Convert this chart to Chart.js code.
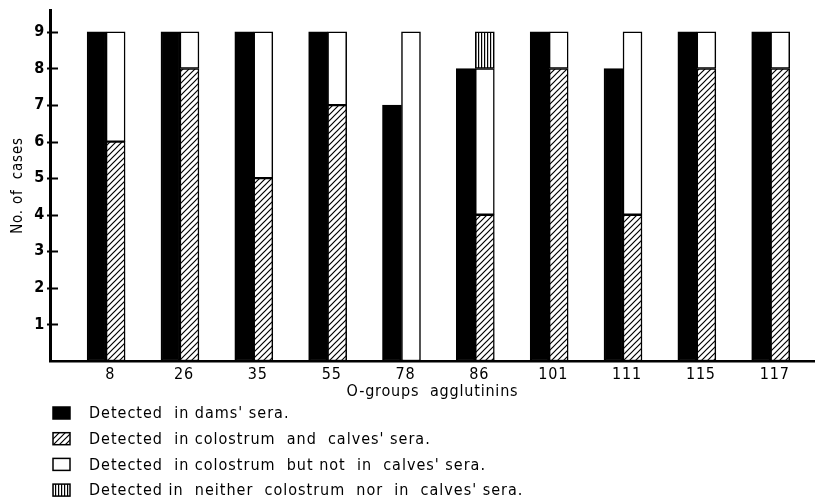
<!DOCTYPE html>
<html>
<head>
<meta charset="utf-8">
<script src="https://cdn.jsdelivr.net/npm/chart.js@4.4.1/dist/chart.umd.min.js"></script>
<style>
  html, body { margin: 0; padding: 0; background: #fff; }
  #wrap { width: 815px; height: 503px; }
</style>
</head>
<body>
<div id="wrap"><canvas id="c" width="815" height="503"></canvas></div>
<script>
// O-group agglutinins and the number of cases in which each was detected
const groups = ['8', '26', '35', '55', '78', '86', '101', '111', '115', '117'];
const damsSera = [9, 9, 9, 9, 7, 8, 9, 8, 9, 9];
const colostrumAndCalves = [6, 8, 5, 7, null, 4, 8, 4, 8, 8];
const colostrumNotCalves = [3, 1, 4, 2, 9, 4, 1, 5, 1, 1];
const neitherColostrumNorCalves = [null, null, null, null, null, 1, null, null, null, null];
const yTickValues = [1, 2, 3, 4, 5, 6, 7, 8, 9];
const seriesLabels = [
  "Detected  in dams' sera.",
  "Detected  in colostrum  and  calves' sera.",
  "Detected  in colostrum  but not  in  calves' sera.",
  "Detected in  neither  colostrum  nor  in  calves' sera."
];

const FONT = "'DejaVu Sans Condensed', 'DejaVu Sans', sans-serif";

// Hatch fills made from small repeating tiles
function makePattern(kind) {
  const tile = document.createElement('canvas');
  const t = tile.getContext('2d');
  if (kind === 'diagonal') {
    const s = 6;
    tile.width = s; tile.height = s;
    t.fillStyle = '#fff'; t.fillRect(0, 0, s, s);
    t.strokeStyle = '#000'; t.lineWidth = 1.2;
    t.beginPath();
    t.moveTo(-1, s + 1); t.lineTo(s + 1, -1);
    t.moveTo(-1, 1); t.lineTo(1, -1);
    t.moveTo(s - 1, s + 1); t.lineTo(s + 1, s - 1);
    t.stroke();
  } else {
    tile.width = 3; tile.height = 2;
    t.fillStyle = '#fff'; t.fillRect(0, 0, 3, 2);
    t.fillStyle = '#000'; t.fillRect(1, 0, 1.2, 2);
  }
  return document.createElement('canvas').getContext('2d').createPattern(tile, 'repeat');
}

const diagonalFill = makePattern('diagonal');
const verticalFill = makePattern('vertical');

const toPoints = arr => arr.map((v, i) => ({ x: i, y: v }));

// short tick marks pointing into the plot from the y axis
const innerTicks = {
  id: 'innerTicks',
  afterDraw(chart) {
    const y = chart.scales.y;
    const ctx = chart.ctx;
    ctx.save();
    ctx.strokeStyle = '#000';
    ctx.lineWidth = 2;
    y.ticks.forEach(t => {
      const py = Math.round(y.getPixelForValue(t.value)) + 0.5;
      ctx.beginPath();
      ctx.moveTo(y.right - 3, py);
      ctx.lineTo(y.right + 8, py);
      ctx.stroke();
    });
    ctx.restore();
  }
};

// key listed one series per line under the axis title
const stackedKey = {
  id: 'stackedKey',
  afterDraw(chart) {
    const ctx = chart.ctx;
    const top = chart.scales.x.bottom + 10;
    const gap = 25.7;
    ctx.save();
    ctx.letterSpacing = '1px';
    ctx.font = '16px ' + FONT;
    ctx.textBaseline = 'middle';
    chart.data.datasets.forEach((ds, i) => {
      const cy = top + i * gap;
      const bx = 53, bw = 17, bh = 12;
      ctx.fillStyle = ds.backgroundColor;
      ctx.fillRect(bx, cy - bh / 2, bw, bh);
      ctx.strokeStyle = '#000';
      ctx.lineWidth = 1.5;
      ctx.strokeRect(bx, cy - bh / 2, bw, bh);
      ctx.fillStyle = '#000';
      ctx.fillText(ds.label, 89, cy + 1);
    });
    ctx.restore();
  }
};

const spacing = {
  id: 'spacing',
  beforeDraw(chart) { chart.ctx.letterSpacing = '0.8px'; }
};

new Chart(document.getElementById('c'), {
  type: 'bar',
  data: {
    datasets: [
      { label: seriesLabels[0], data: toPoints(damsSera), stack: 'dams',
        backgroundColor: '#000', borderColor: '#000' },
      { label: seriesLabels[1], data: toPoints(colostrumAndCalves), stack: 'colostrum',
        backgroundColor: diagonalFill, borderColor: '#000' },
      { label: seriesLabels[2], data: toPoints(colostrumNotCalves), stack: 'colostrum',
        backgroundColor: '#fff', borderColor: '#000' },
      { label: seriesLabels[3], data: toPoints(neitherColostrumNorCalves), stack: 'colostrum',
        backgroundColor: verticalFill, borderColor: '#000' }
    ]
  },
  plugins: [spacing, innerTicks, stackedKey],
  options: {
    responsive: false,
    animation: false,
    layout: { padding: { top: 10, left: 0, right: 0, bottom: 100 } },
    datasets: { bar: { barThickness: 19, borderWidth: 1.5, borderSkipped: false } },
    plugins: { legend: { display: false }, tooltip: { enabled: false } },
    scales: {
      x: {
        type: 'linear',
        offset: false,
        min: -0.76,
        max: 9.6,
        grid: { display: false, drawTicks: false },
        border: { color: '#000', width: 2.5 },
        afterBuildTicks: s => { s.ticks = groups.map((g, i) => ({ value: i })); },
        ticks: {
          autoSkip: false, maxRotation: 0, padding: 4, labelOffset: 4, color: '#000',
          font: { family: FONT, size: 16 },
          callback: v => groups[v]
        },
        title: {
          display: true, text: 'O-groups  agglutinins', color: '#000',
          font: { family: FONT, size: 16 }, padding: { top: 0, bottom: 2 }
        },
        afterFit: s => { s.height = 42; }
      },
      y: {
        min: 0,
        max: 9.6,
        stacked: true,
        grid: { display: false, drawTicks: false },
        border: { color: '#000', width: 3 },
        afterBuildTicks: s => { s.ticks = yTickValues.map(v => ({ value: v })); },
        ticks: {
          padding: 5, color: '#000',
          font: { family: FONT, size: 16, weight: 'bold' }
        },
        title: {
          display: true, text: 'No. of  cases', color: '#000',
          font: { family: FONT, size: 15 }, padding: { top: 9, bottom: 0 }
        },
        afterFit: s => { s.width = 50; s.paddingTop = 0; s.paddingBottom = 0; }
      }
    }
  }
});
</script>
</body>
</html>
